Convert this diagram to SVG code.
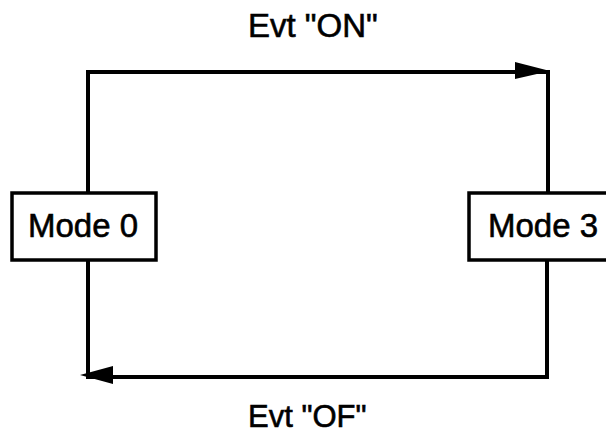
<svg xmlns="http://www.w3.org/2000/svg" width="606" height="434" viewBox="0 0 606 434">
<style>
.box{fill:#fff;stroke:#000;stroke-width:3.5}
.ln{fill:none;stroke:#000;stroke-width:4}
.lbl{font-family:"Liberation Sans",Arial,sans-serif;font-size:33px;fill:#000;stroke:#000;stroke-width:0.6}
</style>
<rect width="606" height="434" fill="#fff"/>
<g id="connectors">
<path class="ln" d="M88 192 V72 H548 V193"/>
<polygon points="515,62 550,71 515,79" fill="#000"/>
<path class="ln" d="M88 260 V377 H547 V260"/>
<polygon points="113,366 80,375 113,384" fill="#000"/>
</g>
<g id="mode0">
<rect class="box" x="12" y="193" width="144" height="67"/>
<text class="lbl" x="28" y="237">Mode 0</text>
</g>
<g id="mode3">
<rect class="box" x="469" y="193" width="145" height="67"/>
<text class="lbl" x="488" y="237">Mode 3</text>
</g>
<g id="label-on">
<text class="lbl" x="248" y="37">Evt "ON"</text>
</g>
<g id="label-of">
<text class="lbl" x="248" y="427" style="font-size:31px">Evt "OF"</text>
</g>
</svg>
